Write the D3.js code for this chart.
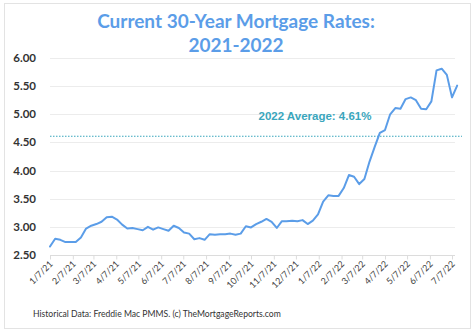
<!DOCTYPE html>
<html>
<head>
<meta charset="utf-8">
<script src="https://cdn.jsdelivr.net/npm/d3@7"></script>
<style>
  html, body { margin: 0; padding: 0; background: #fff; }
  svg { display: block; }
</style>
</head>
<body>
<svg id="chart" width="474" height="332"></svg>
<script>
// Freddie Mac PMMS weekly 30-year fixed rates
const weekDates = [
  "2021-01-07","2021-01-14","2021-01-21","2021-01-28","2021-02-04","2021-02-11","2021-02-18","2021-02-25",
  "2021-03-04","2021-03-11","2021-03-18","2021-03-25","2021-04-01","2021-04-08","2021-04-15","2021-04-22",
  "2021-04-29","2021-05-06","2021-05-13","2021-05-20","2021-05-27","2021-06-03","2021-06-10","2021-06-17",
  "2021-06-24","2021-07-01","2021-07-08","2021-07-15","2021-07-22","2021-07-29","2021-08-05","2021-08-12",
  "2021-08-19","2021-08-26","2021-09-02","2021-09-09","2021-09-16","2021-09-23","2021-09-30","2021-10-07",
  "2021-10-14","2021-10-21","2021-10-28","2021-11-04","2021-11-11","2021-11-18","2021-11-24","2021-12-02",
  "2021-12-09","2021-12-16","2021-12-23","2021-12-30","2022-01-06","2022-01-13","2022-01-20","2022-01-27",
  "2022-02-03","2022-02-10","2022-02-17","2022-02-24","2022-03-03","2022-03-10","2022-03-17","2022-03-24",
  "2022-03-31","2022-04-07","2022-04-14","2022-04-21","2022-04-28","2022-05-05","2022-05-12","2022-05-19",
  "2022-05-26","2022-06-02","2022-06-09","2022-06-16","2022-06-23","2022-06-30","2022-07-07","2022-07-14"
];
const rates = [
  2.65,2.79,2.77,2.73,2.73,2.73,2.81,2.97,
  3.02,3.05,3.09,3.17,3.18,3.13,3.04,2.97,
  2.98,2.96,2.94,3.00,2.95,2.99,2.96,2.93,
  3.02,2.98,2.90,2.88,2.78,2.80,2.77,2.87,
  2.86,2.87,2.87,2.88,2.86,2.88,3.01,2.99,
  3.05,3.09,3.14,3.09,2.98,3.10,3.10,3.11,
  3.10,3.12,3.05,3.11,3.22,3.45,3.56,3.55,
  3.55,3.69,3.92,3.89,3.76,3.85,4.16,4.42,
  4.67,4.72,5.00,5.11,5.10,5.27,5.30,5.25,
  5.10,5.09,5.23,5.78,5.81,5.70,5.30,5.51
];
const xTickLabels = ["1/7/21","2/7/21","3/7/21","4/7/21","5/7/21","6/7/21","7/7/21","8/7/21","9/7/21",
  "10/7/21","11/7/21","12/7/21","1/7/22","2/7/22","3/7/22","4/7/22","5/7/22","6/7/22","7/7/22"];
const yTicks = [2.5, 3.0, 3.5, 4.0, 4.5, 5.0, 5.5, 6.0];
const averageRate = 4.61;
const averageLabel = "2022 Average: 4.61%";
const titleLines = ["Current 30-Year Mortgage Rates:", "2021-2022"];
const footerText = "Historical Data: Freddie Mac PMMS. (c) TheMortgageReports.com";

const parseISO = d3.timeParse("%Y-%m-%d");
const parseTick = d3.timeParse("%m/%d/%y");
const points = weekDates.map((d, i) => ({ date: parseISO(d), rate: rates[i] }));
const tickDates = xTickLabels.map(parseTick);

const svg = d3.select("#chart");
const font = "Lato, 'Open Sans', sans-serif";

// card frame
svg.append("rect").attr("x", 4.5).attr("y", 3.5).attr("width", 466).attr("height", 325)
  .attr("fill", "#fff").attr("stroke", "#e3e3e3").attr("stroke-width", 1);

const x = d3.scaleTime().domain([tickDates[0], tickDates[tickDates.length - 1]]).range([50, 452]);
const y = d3.scaleLinear().domain([2.5, 6]).range([255, 58]);
const plotRight = 455;

// horizontal gridlines
svg.append("g").selectAll("line").data(yTicks).join("line")
  .attr("x1", 50).attr("x2", plotRight)
  .attr("y1", d => Math.round(y(d)) + 0.5).attr("y2", d => Math.round(y(d)) + 0.5)
  .attr("stroke", d => d === 2.5 ? "#dcdcdc" : "#ececec").attr("stroke-width", 1);

// y-axis labels
svg.append("g").selectAll("text").data(yTicks).join("text")
  .attr("x", 36).attr("y", d => y(d) + 4)
  .attr("text-anchor", "end")
  .attr("font-family", font).attr("font-weight", 700).attr("font-size", 11.5)
  .attr("fill", "#333")
  .text(d3.format(".2f"));

// x-axis ticks and rotated labels
const xAxis = d3.axisBottom(x).tickValues(tickDates).tickSize(4).tickFormat((d, i) => xTickLabels[i]);
const gx = svg.append("g").attr("transform", `translate(0,${Math.round(y(2.5)) + 0.5})`).call(xAxis);
gx.select(".domain").remove();
gx.selectAll(".tick line").attr("stroke", "#dcdcdc");
gx.selectAll(".tick text")
  .attr("font-family", font).attr("font-size", 9).attr("fill", "#444")
  .attr("text-anchor", "end")
  .attr("dy", 0).attr("y", 0)
  .attr("transform", "translate(3,9) rotate(-45)");

// average line
svg.append("line")
  .attr("x1", 50).attr("x2", 462)
  .attr("y1", y(averageRate)).attr("y2", y(averageRate))
  .attr("stroke", "#3aa6bd").attr("stroke-width", 1.2).attr("stroke-dasharray", "1.5,1.5");

svg.append("text")
  .attr("x", 315).attr("y", 120)
  .attr("text-anchor", "middle")
  .attr("font-family", "'Liberation Sans', Arial, sans-serif").attr("font-weight", 700).attr("font-size", 11.5)
  .attr("fill", "#3aa6bd")
  .text(averageLabel);

// rate line
svg.append("path").datum(points)
  .attr("fill", "none").attr("stroke", "#5b9de8").attr("stroke-width", 2)
  .attr("stroke-linejoin", "round").attr("stroke-linecap", "round")
  .attr("d", d3.line().x(d => x(d.date)).y(d => y(d.rate)));

// title
svg.append("g").selectAll("text").data(titleLines).join("text")
  .attr("x", 236).attr("y", (d, i) => 28 + i * 24)
  .attr("text-anchor", "middle")
  .attr("font-family", font).attr("font-weight", 700).attr("font-size", 19)
  .attr("fill", "#5b9de8")
  .text(d => d);

// footer
const foot = svg.append("text")
  .attr("x", 33).attr("y", 317)
  .attr("font-family", font).attr("font-size", 10)
  .attr("fill", "#333")
  .text(footerText);
const fw = foot.node().getComputedTextLength();
foot.attr("font-size", 10 * 248 / fw);
</script>
</body>
</html>
